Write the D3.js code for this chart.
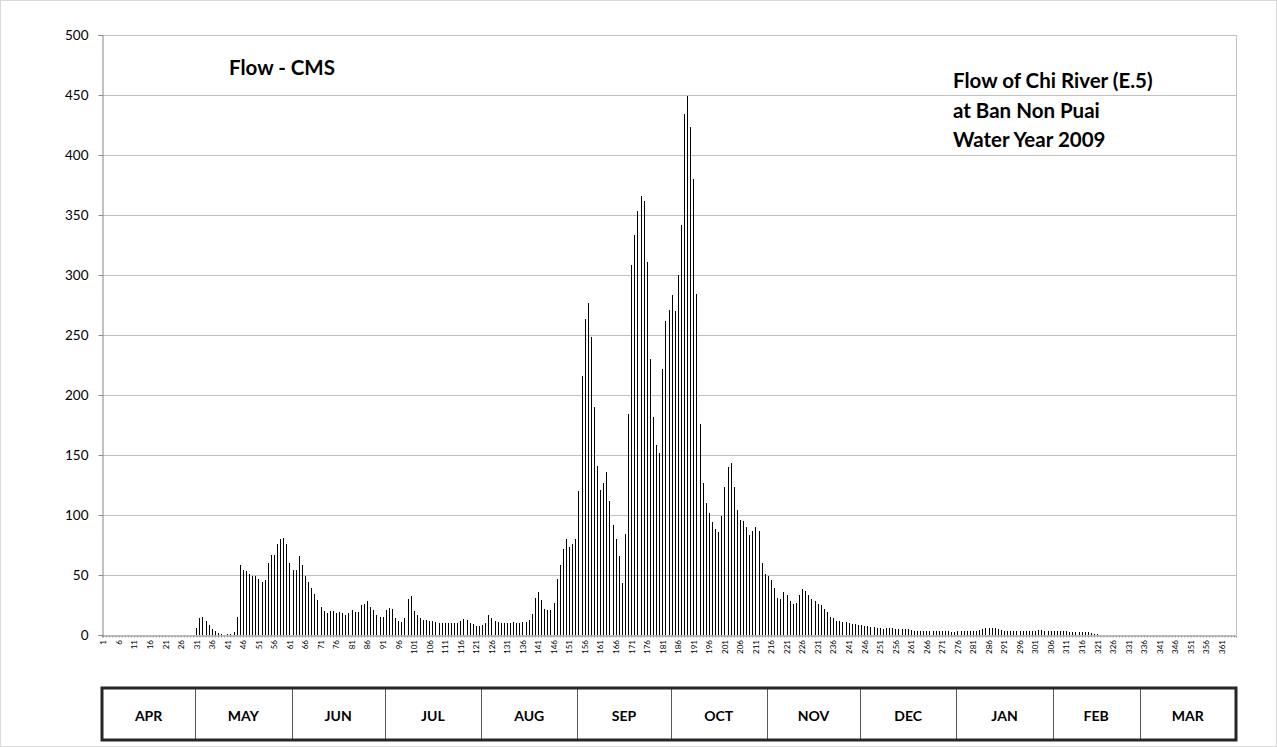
<!DOCTYPE html>
<html>
<head>
<meta charset="utf-8">
<script src="https://cdn.jsdelivr.net/npm/d3@7"></script>
<style>
  html, body { margin: 0; padding: 0; background: #fff; }
  svg { display: block; font-family: Lato, "Open Sans", sans-serif; }
</style>
</head>
<body>
<svg id="chart" width="1277" height="747"></svg>
<script>
// Daily flow (m3/s) of the Chi River at Ban Non Puai (station E.5), water year 2009,
// day 1 = 1 April.
const flow = [
  0, 0, 0, 0, 0, 0, 0, 0, 0, 0,
  0, 0, 0, 0, 0, 0, 0, 0, 0, 0,
  0, 0, 0, 0, 0, 0, 0, 0, 0, 0,
  6, 14, 15, 12, 8, 5, 3.3, 1.4, 0.8, 0.3,                 // 31-40
  0.8, 0.8, 2.5, 15, 58, 54, 53, 51, 49, 49,               // 41-50
  47, 44, 46, 60, 67, 67, 76, 80, 81, 76,                  // 51-60
  60, 54, 54, 66, 58, 49, 44, 39, 34, 29,                  // 61-70
  23, 20, 18.6, 20, 20, 18, 19, 18, 16.7, 18,              // 71-80
  21, 19, 19, 25, 26, 28, 23, 21, 16.7, 15,                // 81-90
  15, 21, 22.8, 21.7, 14, 11.7, 10.8, 14, 30, 32.5,        // 91-100
  20, 16.7, 14, 12.8, 12.5, 12, 12, 11, 10, 10,            // 101-110
  10, 10, 10, 10, 10, 12, 13.3, 12.5, 10, 9,               // 111-120
  7.5, 7.5, 8.3, 10, 16.7, 14, 11.7, 10.8, 10, 10,         // 121-130
  10, 10, 10.8, 10, 10, 10.8, 10.8, 12.5, 17.5, 31,        // 131-140
  36, 29, 21.7, 21, 21, 26.7, 46.7, 58, 72, 80,            // 141-150
  73, 76, 80, 120, 216, 263, 277, 248, 190, 141,           // 151-160
  121, 127, 136, 112, 92, 80, 66, 43, 84, 184,             // 161-170
  308, 333, 353, 366, 362, 311, 230, 182, 158, 152,        // 171-180
  222, 262, 271, 283, 270, 300, 342, 434, 449, 423,        // 181-190
  380, 284, 176, 127, 110, 102, 94, 88, 86, 99,            // 191-200
  123, 140, 143, 123, 104, 96, 95, 90, 83, 87,             // 201-210
  90, 87, 60, 51, 49, 46, 39, 31, 30, 36,                  // 211-220
  33, 28, 26, 27, 33, 38, 37, 33, 30, 28,                  // 221-230
  26, 25, 22, 19, 15, 14, 12, 12, 11, 10.6,                // 231-240
  10, 9.4, 8.9, 8.3, 8.3, 7.5, 7.5, 7, 6.4, 6.1,           // 241-250
  5.6, 5, 5.6, 5.8, 5.8, 5.3, 5, 5, 5, 5,                  // 251-260
  3.9, 3.4, 3.4, 3.6, 3.4, 3.4, 3.4, 3.4, 3.4, 3.4,        // 261-270
  3.4, 3.4, 3.4, 2.8, 2.8, 3.4, 3.6, 3.4, 3.0, 3.0,        // 271-280
  3.4, 3.6, 4.0, 5.0, 5.5, 5.8, 5.8, 5.5, 5.0, 4.4,        // 281-290
  3.6, 3.6, 3.4, 3.4, 3.4, 3.4, 3.4, 3.6, 3.6, 3.6,        // 291-300
  3.6, 3.8, 3.8, 3.6, 3.6, 3.6, 3.6, 3.4, 3.4, 3.2,        // 301-310
  3.0, 2.8, 2.8, 2.6, 2.6, 2.4, 2.4, 2.2, 1.5, 0.8,        // 311-320
  0.5, 0.3, 0, 0, 0, 0, 0, 0, 0, 0,                        // 321-330
  0, 0, 0, 0, 0, 0, 0, 0, 0, 0,
  0, 0, 0, 0, 0, 0, 0, 0, 0, 0,
  0, 0, 0, 0, 0, 0, 0, 0, 0, 0,
  0, 0, 0, 0, 0                                            // 361-365
];

// Day numbers along the x axis (water-year day of each value).
const days = flow.map((_, i) => i + 1);

// Labelled days on the x axis.
const dayTicks = [1, 6, 11, 16, 21, 26, 31, 36, 41, 46, 51, 56, 61, 66, 71, 76, 81, 86, 91, 96,
  101, 106, 111, 116, 121, 126, 131, 136, 141, 146, 151, 156, 161, 166, 171, 176, 181, 186, 191, 196,
  201, 206, 211, 216, 221, 226, 231, 236, 241, 246, 251, 256, 261, 266, 271, 276, 281, 286, 291, 296,
  301, 306, 311, 316, 321, 326, 331, 336, 341, 346, 351, 356, 361];

// Flow ticks on the y axis.
const flowTicks = [0, 50, 100, 150, 200, 250, 300, 350, 400, 450, 500];

// Months of the water year and their lengths in days.
const months = ["APR", "MAY", "JUN", "JUL", "AUG", "SEP", "OCT", "NOV", "DEC", "JAN", "FEB", "MAR"];
const monthDays = [30, 31, 30, 31, 31, 30, 31, 30, 31, 31, 28, 31];

const chartTitle = ["Flow of Chi River (E.5)", "at Ban Non Puai", "Water Year 2009"];
const unitLabel = "Flow - CMS";

// ---- layout ----
const W = 1277, H = 747;
const plot = { left: 102, right: 1236, top: 35, bottom: 635 };
const AXIS = "#868686", GRID = "#c0c0c0";

const svg = d3.select("#chart");

// outer chart frame
svg.append("rect")
  .attr("x", 0.5).attr("y", 0.5).attr("width", W - 1).attr("height", H - 1)
  .attr("fill", "#fff").attr("stroke", "#d9d9d9");

const x = d3.scaleBand().domain(days).range([plot.left, plot.right]).padding(0);
const y = d3.scaleLinear().domain([0, 500]).range([plot.bottom, plot.top]);

// horizontal gridlines
svg.append("g")
  .selectAll("line")
  .data(flowTicks.filter(t => t > 0))
  .join("line")
  .attr("x1", plot.left).attr("x2", plot.right)
  .attr("y1", d => Math.round(y(d)) + 0.5).attr("y2", d => Math.round(y(d)) + 0.5)
  .attr("stroke", GRID).attr("stroke-width", 1);

// right edge of the plot area
svg.append("line")
  .attr("x1", plot.right + 0.5).attr("x2", plot.right + 0.5)
  .attr("y1", plot.top).attr("y2", plot.bottom)
  .attr("stroke", GRID);

// bars, one pixel wide, snapped to the pixel grid
svg.append("g")
  .selectAll("rect")
  .data(days)
  .join("rect")
  .attr("x", d => Math.round(x(d) + x.bandwidth() / 2 - 0.5))
  .attr("width", 1)
  .attr("y", d => y(flow[d - 1]))
  .attr("height", d => y(0) - y(flow[d - 1]))
  .attr("fill", "#000")
  .attr("shape-rendering", "crispEdges");

// y axis
const yAxis = svg.append("g")
  .attr("transform", `translate(${plot.left + 0.5},0)`)
  .call(d3.axisLeft(y).tickValues(flowTicks).tickSize(4).tickPadding(10));
yAxis.select(".domain").attr("stroke", AXIS);
yAxis.selectAll(".tick line").attr("stroke", AXIS);
yAxis.selectAll(".tick text")
  .attr("font-family", "Lato, sans-serif")
  .attr("font-size", 13.5)
  .attr("fill", "#000");

// x axis: a tick for every day, labels every fifth day
const xAxis = svg.append("g")
  .attr("transform", `translate(0,${plot.bottom + 0.5})`)
  .call(d3.axisBottom(x).tickValues(days).tickSize(2).tickFormat(""));
xAxis.select(".domain").attr("stroke", AXIS);
xAxis.selectAll(".tick line").attr("stroke", AXIS).attr("stroke-width", 0.8);

svg.append("g")
  .selectAll("text")
  .data(dayTicks)
  .join("text")
  .attr("transform", d => `translate(${x(d) + x.bandwidth() / 2},${plot.bottom + 5}) rotate(-90)`)
  .attr("text-anchor", "end")
  .attr("dy", "0.35em")
  .attr("font-size", 8)
  .attr("fill", "#000")
  .text(d => d);

// unit label and title
svg.append("text")
  .attr("x", 229).attr("y", 75)
  .attr("font-size", 20.5).attr("font-weight", "bold")
  .text(unitLabel);

svg.append("g")
  .selectAll("text")
  .data(chartTitle)
  .join("text")
  .attr("x", 953)
  .attr("y", (d, i) => 88 + i * 29.5)
  .attr("font-size", 20.5).attr("font-weight", "bold")
  .text(d => d);

// month strip below the axis
const monthEnd = d3.cumsum(monthDays);
const monthStart = monthEnd.map((e, i) => e - monthDays[i]);
const m = d3.scaleLinear().domain([0, 365]).range([plot.left, plot.right]);
const strip = { top: 688, bottom: 740 };

const cells = svg.append("g");
cells.selectAll("line")
  .data(monthEnd.slice(0, -1))
  .join("line")
  .attr("x1", d => Math.round(m(d)) + 0.5).attr("x2", d => Math.round(m(d)) + 0.5)
  .attr("y1", strip.top).attr("y2", strip.bottom)
  .attr("stroke", "#595959").attr("stroke-width", 1);

cells.selectAll("text")
  .data(months)
  .join("text")
  .attr("x", (d, i) => (m(monthStart[i]) + m(monthEnd[i])) / 2)
  .attr("y", 721)
  .attr("text-anchor", "middle")
  .attr("font-size", 14).attr("font-weight", "bold")
  .text(d => d);

svg.append("rect")
  .attr("x", plot.left).attr("y", strip.top)
  .attr("width", plot.right - plot.left).attr("height", strip.bottom - strip.top)
  .attr("fill", "none").attr("stroke", "#262626").attr("stroke-width", 3);
</script>
</body>
</html>
